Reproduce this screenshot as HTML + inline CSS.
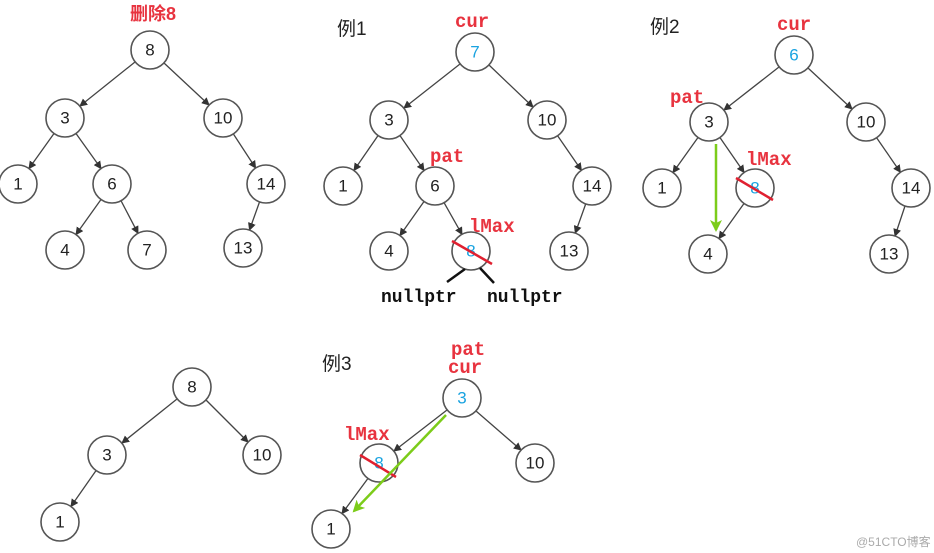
<!DOCTYPE html>
<html><head><meta charset="utf-8"><style>
html,body{margin:0;padding:0;background:#fff;width:934px;height:553px;overflow:hidden}
svg{display:block}
.n circle{fill:#fff;stroke:#555;stroke-width:1.6}
.t{font-family:"Liberation Sans",sans-serif;font-size:17px;fill:#222;text-anchor:middle;dominant-baseline:central}
.b{fill:#1aa3e0}
.e{stroke:#444;stroke-width:1.3;marker-end:url(#a)}
.r{font-family:"Liberation Mono",monospace;font-size:19px;fill:#e8333f;font-weight:bold}
.k{font-family:"Liberation Mono",monospace;font-size:18px;fill:#111;font-weight:bold}
.h{font-family:"Liberation Sans","Noto Sans CJK SC",sans-serif;font-size:19px;fill:#222}
</style></head><body>
<svg width="934" height="553" viewBox="0 0 934 553">
<defs>
<marker id="a" markerWidth="8" markerHeight="8" refX="7" refY="4" orient="auto" markerUnits="userSpaceOnUse"><path d="M0,0 L8,4 L0,8 Z" fill="#333"/></marker>
<marker id="g" markerWidth="12" markerHeight="12" refX="10" refY="6" orient="auto" markerUnits="userSpaceOnUse"><path d="M0,0 L12,6 L0,12 L3,6 Z" fill="#7ccc1a"/></marker>
</defs>
<g>
<line class="e" x1="135" y1="62" x2="80" y2="106"/>
<line class="e" x1="164" y1="63" x2="209" y2="105"/>
<line class="e" x1="54" y1="133.5" x2="29" y2="168.5"/>
<line class="e" x1="76" y1="133.5" x2="101" y2="168.5"/>
<line class="e" x1="233.4" y1="134" x2="255.6" y2="168"/>
<line class="e" x1="101" y1="199.5" x2="76" y2="234.5"/>
<line class="e" x1="121" y1="200.7" x2="138" y2="233.3"/>
<line class="e" x1="259.5" y1="202" x2="249.5" y2="230"/>

<line class="e" x1="460" y1="64" x2="404" y2="108"/>
<line class="e" x1="489" y1="65" x2="533" y2="107"/>
<line class="e" x1="378" y1="135.6" x2="354" y2="170.4"/>
<line class="e" x1="400" y1="135.6" x2="424" y2="170.4"/>
<line class="e" x1="557.6" y1="135.8" x2="581.4" y2="170.2"/>
<line class="e" x1="424" y1="201.5" x2="400" y2="235.5"/>
<line class="e" x1="444" y1="202.6" x2="462" y2="234.4"/>
<line class="e" x1="585.7" y1="204" x2="575.3" y2="233"/>

<line class="e" x1="779" y1="67" x2="724" y2="110"/>
<line class="e" x1="808" y1="68" x2="852" y2="109"/>
<line class="e" x1="698" y1="137.5" x2="673" y2="172.5"/>
<line class="e" x1="720" y1="137.6" x2="744" y2="172.4"/>
<line class="e" x1="876.6" y1="137.8" x2="900.4" y2="172.2"/>
<line class="e" x1="744" y1="203.5" x2="719" y2="238.5"/>
<line class="e" x1="905" y1="206" x2="895" y2="236"/>

<line class="e" x1="177" y1="399" x2="122" y2="443"/>
<line class="e" x1="206" y1="400" x2="248" y2="442"/>
<line class="e" x1="96" y1="470.6" x2="71" y2="506.4"/>

<line class="e" x1="447" y1="410" x2="394" y2="451"/>
<line class="e" x1="476" y1="411" x2="521" y2="450"/>
<line class="e" x1="368" y1="478.4" x2="342" y2="513.6"/>
</g>
<g class="n">
<circle cx="150" cy="50" r="19"/><circle cx="65" cy="118" r="19"/><circle cx="223" cy="118" r="19"/>
<circle cx="18" cy="184" r="19"/><circle cx="112" cy="184" r="19"/><circle cx="266" cy="184" r="19"/>
<circle cx="65" cy="250" r="19"/><circle cx="147" cy="250" r="19"/><circle cx="243" cy="248" r="19"/>

<circle cx="475" cy="52" r="19"/><circle cx="389" cy="120" r="19"/><circle cx="547" cy="120" r="19"/>
<circle cx="343" cy="186" r="19"/><circle cx="435" cy="186" r="19"/><circle cx="592" cy="186" r="19"/>
<circle cx="389" cy="251" r="19"/><circle cx="471" cy="251" r="19"/><circle cx="569" cy="251" r="19"/>

<circle cx="794" cy="55" r="19"/><circle cx="709" cy="122" r="19"/><circle cx="866" cy="122" r="19"/>
<circle cx="662" cy="188" r="19"/><circle cx="755" cy="188" r="19"/><circle cx="911" cy="188" r="19"/>
<circle cx="708" cy="254" r="19"/><circle cx="889" cy="254" r="19"/>

<circle cx="192" cy="387" r="19"/><circle cx="107" cy="455" r="19"/><circle cx="262" cy="455" r="19"/><circle cx="60" cy="522" r="19"/>

<circle cx="462" cy="398" r="19"/><circle cx="379" cy="463" r="19"/><circle cx="535" cy="463" r="19"/><circle cx="331" cy="529" r="19"/>
</g>
<g class="t">
<text class="t" x="150" y="50">8</text><text class="t" x="65" y="118">3</text><text class="t" x="223" y="118">10</text>
<text class="t" x="18" y="184">1</text><text class="t" x="112" y="184">6</text><text class="t" x="266" y="184">14</text>
<text class="t" x="65" y="250">4</text><text class="t" x="147" y="250">7</text><text class="t" x="243" y="248">13</text>

<text class="t b" x="475" y="52">7</text><text class="t" x="389" y="120">3</text><text class="t" x="547" y="120">10</text>
<text class="t" x="343" y="186">1</text><text class="t" x="435" y="186">6</text><text class="t" x="592" y="186">14</text>
<text class="t" x="389" y="251">4</text><text class="t b" x="471" y="251">8</text><text class="t" x="569" y="251">13</text>

<text class="t b" x="794" y="55">6</text><text class="t" x="709" y="122">3</text><text class="t" x="866" y="122">10</text>
<text class="t" x="662" y="188">1</text><text class="t b" x="755" y="188">8</text><text class="t" x="911" y="188">14</text>
<text class="t" x="708" y="254">4</text><text class="t" x="889" y="254">13</text>

<text class="t" x="192" y="387">8</text><text class="t" x="107" y="455">3</text><text class="t" x="262" y="455">10</text><text class="t" x="60" y="522">1</text>

<text class="t b" x="462" y="398">3</text><text class="t b" x="379" y="463">8</text><text class="t" x="535" y="463">10</text><text class="t" x="331" y="529">1</text>
</g>
<line x1="452" y1="241" x2="492" y2="264" stroke="#e02030" stroke-width="2.5"/>
<line x1="736" y1="178" x2="773" y2="200" stroke="#e02030" stroke-width="2.5"/>
<line x1="360" y1="455" x2="396" y2="477" stroke="#e02030" stroke-width="2.5"/>
<line x1="465" y1="269" x2="447" y2="282" stroke="#111" stroke-width="2.5"/>
<line x1="480" y1="268" x2="494" y2="283" stroke="#111" stroke-width="2.5"/>
<line x1="716" y1="144" x2="716" y2="230" stroke="#7ccc1a" stroke-width="2.5" marker-end="url(#g)"/>
<line x1="446" y1="415" x2="354" y2="511" stroke="#7ccc1a" stroke-width="2.5" marker-end="url(#g)"/>
<text x="130" y="20" font-family="Liberation Sans,Noto Sans CJK SC,sans-serif" font-size="18" fill="#e8333f" font-weight="bold">删除8</text>
<text class="h" x="337" y="35">例1</text>
<text class="h" x="650" y="33">例2</text>
<text class="h" x="322" y="370">例3</text>
<text class="r" x="455" y="27">cur</text>
<text class="r" x="430" y="162">pat</text>
<text class="r" x="469" y="232">lMax</text>
<text class="k" x="381" y="302">nullptr</text>
<text class="k" x="487" y="302">nullptr</text>
<text class="r" x="777" y="30">cur</text>
<text class="r" x="670" y="103">pat</text>
<text class="r" x="746" y="165">lMax</text>
<text class="r" x="451" y="355">pat</text>
<text class="r" x="448" y="373">cur</text>
<text class="r" x="344" y="440">lMax</text>
<text x="856" y="546" font-family="Liberation Sans,Noto Sans CJK SC,sans-serif" font-size="12" fill="#aaa">@51CTO博客</text>
</svg>
</body></html>
